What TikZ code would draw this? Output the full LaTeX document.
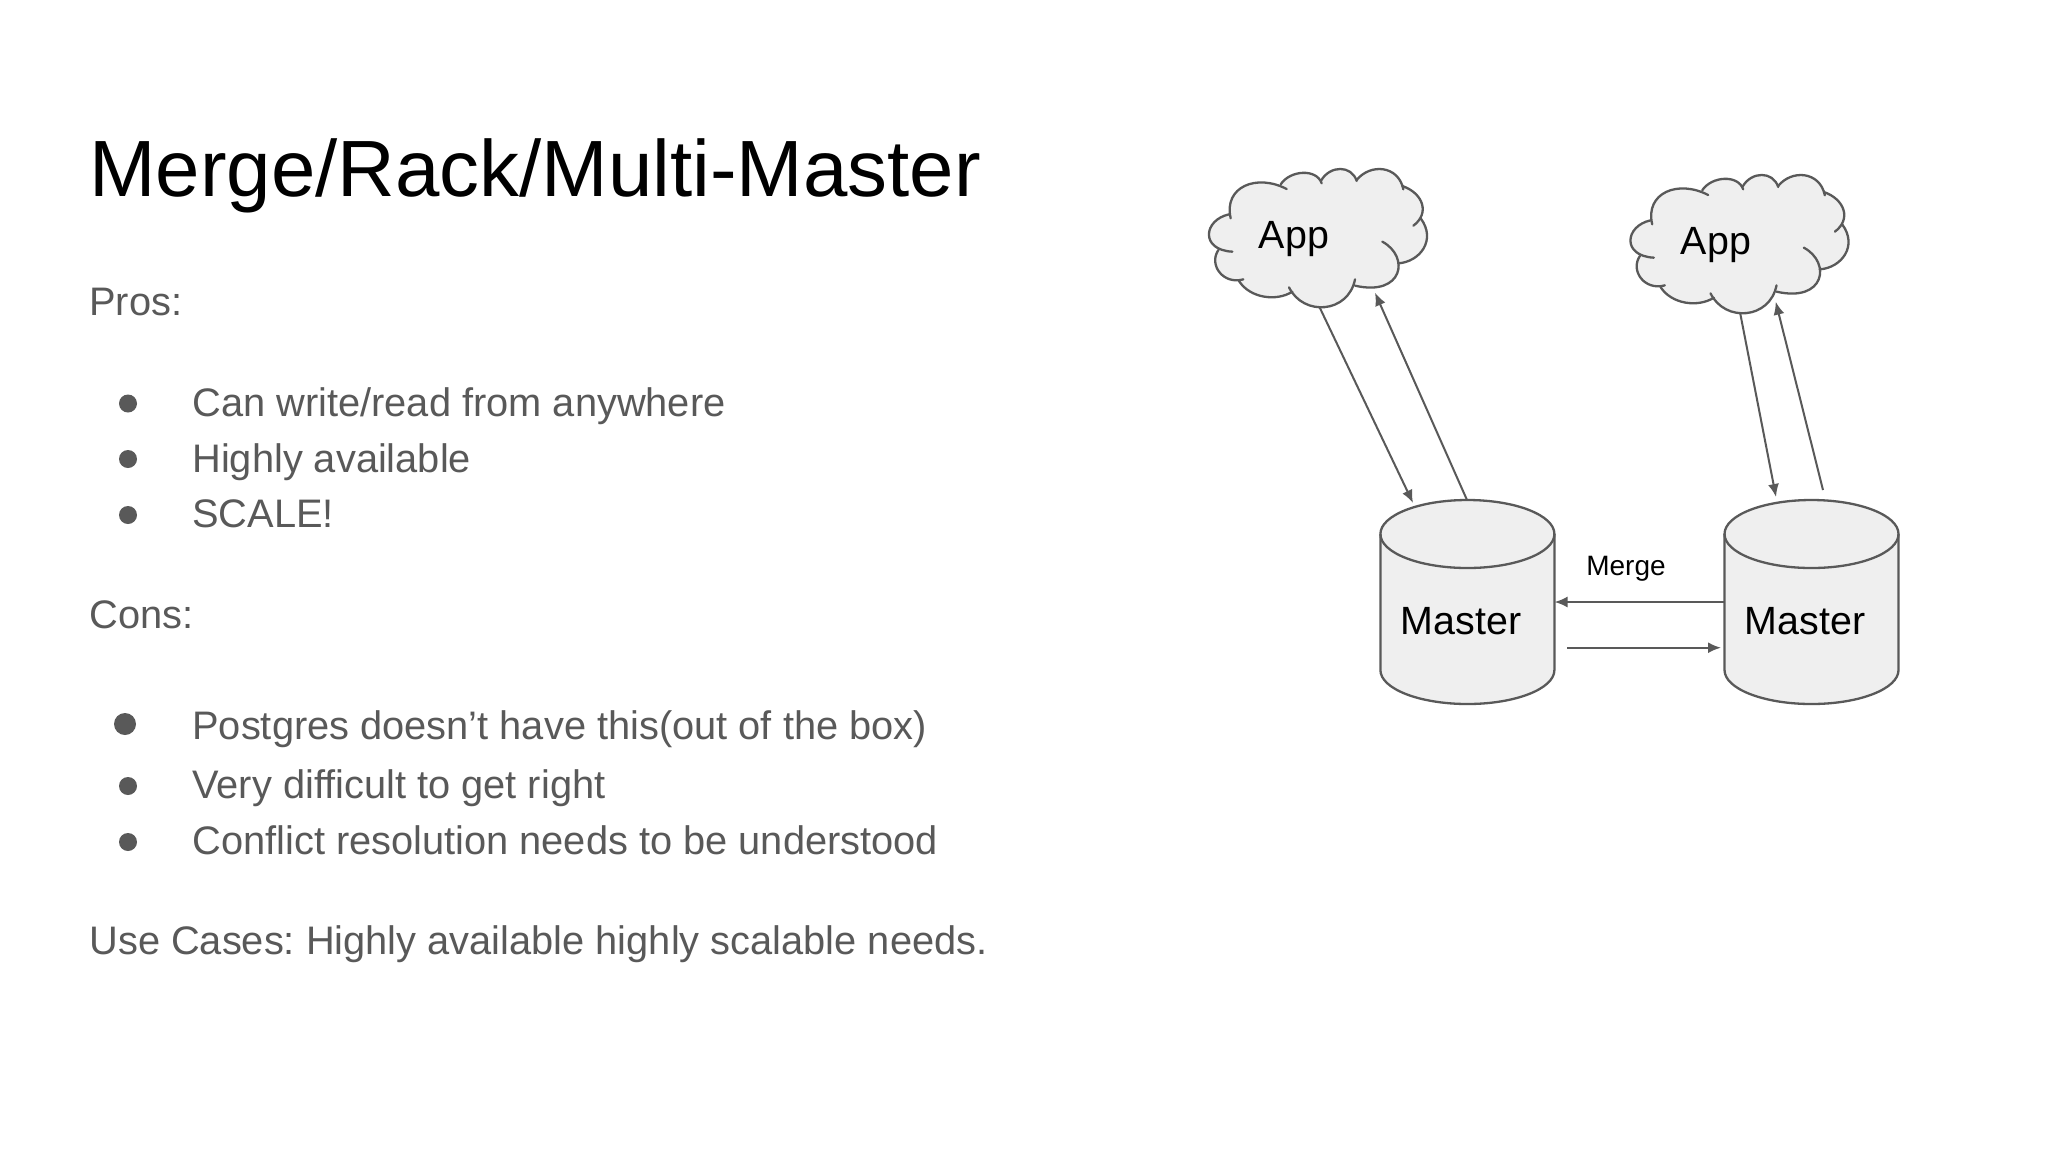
\documentclass[tikz,border=0pt]{standalone}
\usepackage{fontspec}
\setmainfont{Liberation Sans}
\usetikzlibrary{arrows.meta}
\definecolor{bodygrey}{HTML}{595959}
\definecolor{fillgrey}{HTML}{EFEFEF}
\definecolor{linegrey}{HTML}{595959}
\tikzset{
  titletext/.style={anchor=base west,inner sep=0pt,text=black,font=\fontsize{39.9}{48}\selectfont},
  bodytext/.style={anchor=base west,inner sep=0pt,text=bodygrey,font=\fontsize{19.9}{24}\selectfont},
  bulletdot/.style={circle,fill=bodygrey,inner sep=0pt,minimum size=9pt},
  shapeline/.style={draw=linegrey,line width=1.15pt},
  lobe/.style={draw=linegrey,line width=1.15pt,line cap=round},
  conn/.style={draw=linegrey,line width=1pt,-{Latex[length=6.5pt,width=5.5pt]}},
  shapelabel/.style={anchor=base,inner sep=0pt,text=black,font=\fontsize{19.7}{24}\selectfont},
  smalllabel/.style={anchor=base,inner sep=0pt,text=black,font=\fontsize{14}{17}\selectfont}
}
\newcommand{\mycloud}[2]{%
 \begin{scope}[shift={(#1,#2)},x=0.1666667pt,y=-0.1666667pt]
  \fill[fillgrey] (152,205) .. controls (130,110) and (230,70) .. (320,117)
    -- (302,103) .. controls (330,60) and (410,55) .. (425,100)
    -- (423,92) .. controls (450,45) and (515,45) .. (530,93)
    -- (530,90) .. controls (570,40) and (655,45) .. (670,118)
    -- (667,108) .. controls (730,130) and (750,190) .. (700,227)
    -- (722,205) .. controls (770,270) and (720,335) .. (655,340)
    -- (607,275) .. controls (690,320) and (670,440) .. (525,407)
    -- (525,388) .. controls (505,490) and (370,500) .. (327,412)
    -- (337,425) .. controls (290,455) and (210,445) .. (177,393)
    -- (190,388) .. controls (130,405) and (85,345) .. (115,300)
    -- (157,305) .. controls (60,300) and (70,210) .. (147,193) -- cycle;
  \draw[lobe] (152,205) .. controls (130,110) and (230,70) .. (320,117);
  \draw[lobe] (302,103) .. controls (330,60) and (410,55) .. (425,100);
  \draw[lobe] (423,92) .. controls (450,45) and (515,45) .. (530,93);
  \draw[lobe] (530,90) .. controls (570,40) and (655,45) .. (670,118);
  \draw[lobe] (667,108) .. controls (730,130) and (750,190) .. (700,227);
  \draw[lobe] (722,205) .. controls (770,270) and (720,335) .. (655,340);
  \draw[lobe] (607,275) .. controls (690,320) and (670,440) .. (525,407);
  \draw[lobe] (525,388) .. controls (505,490) and (370,500) .. (327,412);
  \draw[lobe] (337,425) .. controls (290,455) and (210,445) .. (177,393);
  \draw[lobe] (190,388) .. controls (130,405) and (85,345) .. (115,300);
  \draw[lobe] (157,305) .. controls (60,300) and (70,210) .. (147,193);
 \end{scope}}
\newcommand{\mycyl}[2]{%
 \begin{scope}[shift={(#1,#2)}]
  \path[fill=fillgrey,shapeline] (0,0) -- (0,136) arc[start angle=180,end angle=0,x radius=87,y radius=34] -- (174,0) arc[start angle=0,end angle=-180,x radius=87,y radius=34] -- cycle;
  \draw[shapeline] (0,0) arc[start angle=180,end angle=0,x radius=87,y radius=34];
 \end{scope}}
\begin{document}
\frenchspacing
\begin{tikzpicture}[x=0.5pt,y=-0.5pt]
\useasboundingbox[fill=white] (0,0) rectangle (2048,1152);
\node[titletext] (title) at (89,196) {Merge/Rack/Multi-Master};
\node[bodytext] (pros) at (89,315.5) {Pros:};
\node[bulletdot] (b1) at (128,403.5) {};
\node[bodytext] (t1) at (192,416) {Can write/read from anywhere};
\node[bulletdot] (b2) at (128,459) {};
\node[bodytext] (t2) at (192,472) {Highly available};
\node[bulletdot] (b3) at (128,515) {};
\node[bodytext] (t3) at (192,527) {SCALE!};
\node[bodytext] (cons) at (89,628) {Cons:};
\node[bulletdot,minimum size=11pt] (b4) at (125,724) {};
\node[bodytext] (t4) at (192,739) {Postgres doesn’t have this(out of the box)};
\node[bulletdot] (b5) at (128,786) {};
\node[bodytext] (t5) at (192,798) {Very difficult to get right};
\node[bulletdot] (b6) at (128,842) {};
\node[bodytext] (t6) at (192,854) {Conflict resolution needs to be understood};
\node[bodytext] (use) at (89,954) {Use Cases: Highly available highly scalable needs.};

\mycloud{1180}{150}
\mycloud{1601.5}{156}
\mycyl{1380.4}{534}
\mycyl{1724.5}{534}
\node[shapelabel] (app1) at (1294,248) {App};
\node[shapelabel] (app2) at (1716,254.3) {App};
\node[shapelabel] (m1) at (1461,634) {Master};
\node[shapelabel] (m2) at (1805,634) {Master};
\node[smalllabel] (merge) at (1626,575) {Merge};

\coordinate (a1out) at (1319.3,306.7);
\coordinate (a1in) at (1413,503);
\coordinate (r1out) at (1467,500);
\coordinate (r1in) at (1375,292.7);
\coordinate (a2out) at (1740,312.3);
\coordinate (a2in) at (1776,497);
\coordinate (r2out) at (1823,490);
\coordinate (r2in) at (1775.7,301.7);
\coordinate (mgl) at (1554.5,602);
\coordinate (mgr) at (1724.5,602);
\coordinate (mrl) at (1567,647.7);
\coordinate (mrr) at (1721,647.7);
\draw[conn] (a1out) -- (a1in);
\draw[conn] (r1out) -- (r1in);
\draw[conn] (a2out) -- (a2in);
\draw[conn] (r2out) -- (r2in);
\draw[conn] (mgr) -- (mgl);
\draw[conn] (mrl) -- (mrr);
\end{tikzpicture}
\end{document}
